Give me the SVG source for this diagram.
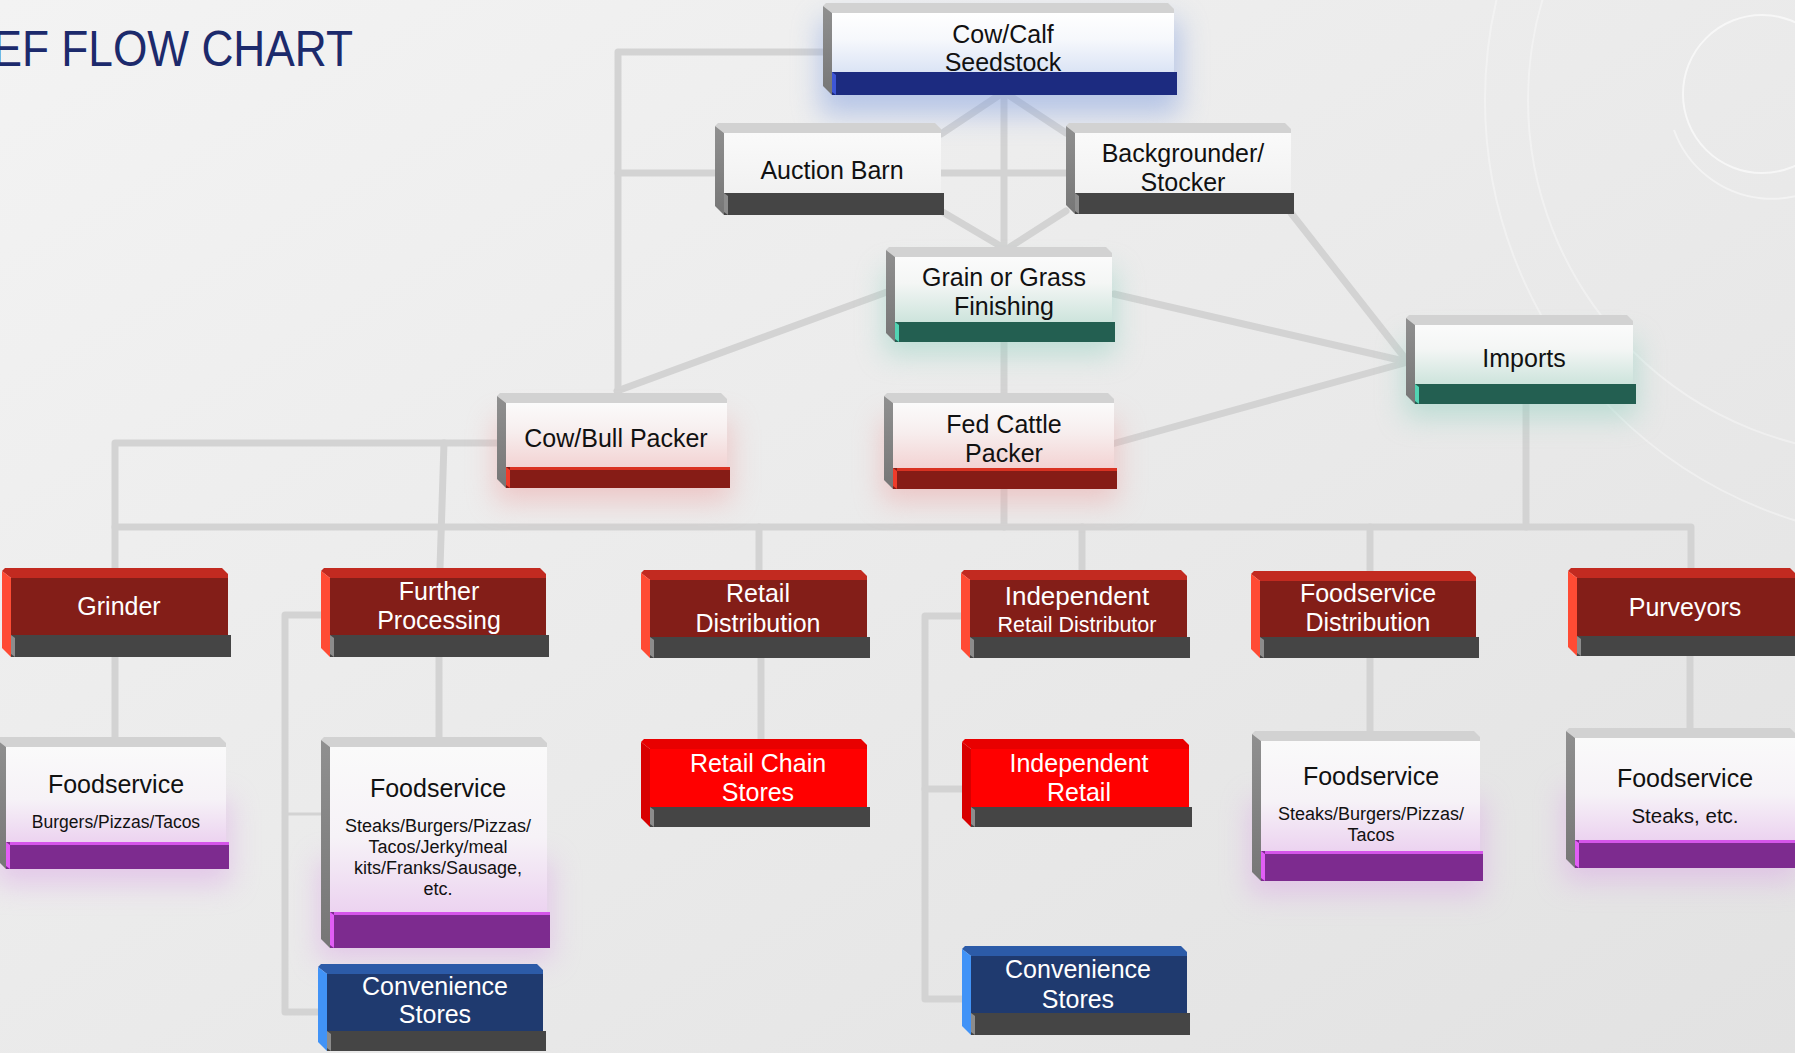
<svg xmlns="http://www.w3.org/2000/svg" width="1795" height="1053" viewBox="0 0 1795 1053">
<defs>
<linearGradient id="bg" x1="0" y1="0" x2="1" y2="1"><stop offset="0" stop-color="#f3f3f3"/><stop offset="1" stop-color="#e2e2e2"/></linearGradient>
<linearGradient id="fBlue" x1="0" y1="0" x2="0" y2="1"><stop offset="0" stop-color="#ffffff"/><stop offset="0.45" stop-color="#f6f8fc"/><stop offset="1" stop-color="#dbe4f5"/></linearGradient>
<linearGradient id="fTeal" x1="0" y1="0" x2="0" y2="1"><stop offset="0" stop-color="#fbfbfb"/><stop offset="0.4" stop-color="#f4f6f5"/><stop offset="1" stop-color="#cde4dc"/></linearGradient>
<linearGradient id="fPink" x1="0" y1="0" x2="0" y2="1"><stop offset="0" stop-color="#fbfbfb"/><stop offset="0.45" stop-color="#f7eeee"/><stop offset="1" stop-color="#f3d3d3"/></linearGradient>
<linearGradient id="fGray" x1="0" y1="0" x2="0" y2="1"><stop offset="0" stop-color="#fafafa"/><stop offset="1" stop-color="#f1f1f1"/></linearGradient>
<linearGradient id="fPurp" x1="0" y1="0" x2="0" y2="1"><stop offset="0" stop-color="#fafafa"/><stop offset="0.55" stop-color="#f6f2f7"/><stop offset="1" stop-color="#ecd3f0"/></linearGradient>
<linearGradient id="sideW" x1="0" y1="0" x2="0" y2="1"><stop offset="0" stop-color="#909090"/><stop offset="1" stop-color="#767676"/></linearGradient>
<filter id="blur" x="-50%" y="-50%" width="200%" height="200%"><feGaussianBlur stdDeviation="14"/></filter>
<style>
.tbw{fill:#d2d2d2}
.sdw{fill:url(#sideW)}
.glow{filter:url(#blur);opacity:0.5}
.bar-gray{fill:#454545}
.bv-gray{fill:#8c8c8c}
.bar-blue{fill:#1c2b80}
.bv-blue{fill:#3e56d6}
.bar-teal{fill:#235f51}
.bv-teal{fill:#52d3b3}
.bar-red{fill:#861c16}
.bv-red{fill:#ee3b2a}
.bar-purp{fill:#7d2b8f}
.bv-purp{fill:#e15ef5}
.f-red{fill:#831e18}
.tb-red{fill:#c22a20}
.sd-red{fill:#ff4b34}
.f-bred{fill:#ff0000}
.tb-bred{fill:#e80000}
.sd-bred{fill:#d80000}
.f-navy{fill:#1f3a6f}
.tb-navy{fill:#2c5ba8}
.sd-navy{fill:#4193f7}
.conn{fill:none;stroke:#d3d3d3;stroke-width:7;stroke-linecap:round;stroke-linejoin:round}
.thin{fill:none;stroke:#d3d3d3;stroke-width:3}
.deco{fill:none;stroke:#ffffff;stroke-width:2}
.t{font-family:"Liberation Sans",Arial,sans-serif;font-size:25px;text-anchor:middle}
.dk{fill:#111111}
.wt{fill:#ffffff}
.s18{font-size:18px}
.s175{font-size:17.5px}
.s21{font-size:21.5px}
.s26{font-size:26px}
.s20{font-size:20.5px}
</style>
</defs>
<rect x="0" y="0" width="1795" height="1053" fill="url(#bg)"/>
<g id="decor">
<circle class="deco" cx="1762" cy="94" r="79" stroke-width="3.5" opacity="0.6"/>
<path class="deco" d="M1674,130 A104,104 0 0 0 1860,150" opacity="0.45"/>
<circle class="deco" cx="1925" cy="100" r="440" opacity="0.35"/>
<circle class="deco" cx="1882" cy="100" r="354" opacity="0.35"/>
</g>
<g id="title"><text transform="translate(353,66) scale(0.885,1)" font-family="Liberation Sans,Arial,sans-serif" font-size="50" fill="#1c2a6c" text-anchor="end">EF FLOW CHART</text></g>

<g id="connectors">
<path class="conn" d="M823,52 H618 V391"/>
<path class="conn" d="M618,173 H715"/>
<path class="conn" d="M1004,92 L941,134"/>
<path class="conn" d="M1004,92 L1066,133"/>
<path class="conn" d="M1004,92 V247"/>
<path class="conn" d="M941,173 H1066"/>
<path class="conn" d="M941,211 L1002,247"/>
<path class="conn" d="M1066,211 L1010,247"/>
<path class="conn" d="M1291,213 L1408,362"/>
<path class="conn" d="M1114,294 L1408,362"/>
<path class="conn" d="M1112,444 L1408,362"/>
<path class="conn" d="M887,292 L617,391"/>
<path class="conn" d="M1004,342 V393"/>
<path class="conn" d="M499,443 H115 V568"/>
<path class="conn" d="M444,443 L440,568"/>
<path class="conn" d="M115,527 H1691 V568"/>
<path class="conn" d="M1004,489 V527"/>
<path class="conn" d="M1526,404 V527"/>
<path class="conn" d="M759,527 V570"/>
<path class="conn" d="M1082,527 V570"/>
<path class="conn" d="M1370,527 V571"/>
<path class="conn" d="M115,657 V737"/>
<path class="conn" d="M439,657 V737"/>
<path class="conn" d="M323,615 H285 V1012 H318"/>
<path class="thin" d="M287,814 H323"/>
<path class="conn" d="M761,658 V739"/>
<path class="conn" d="M963,616 H925 V999 H962"/>
<path class="conn" d="M925,789 H962"/>
<path class="conn" d="M1370,658 V731"/>
<path class="conn" d="M1690,656 V728"/>
</g>

<g id="n-cowcalf">
<rect class="glow" fill="#7f9de0" x="820" y="20" width="360" height="95"/>
<polygon class="tbw" points="823,6 826,3 1168,3 1174,9 1174,13 832,13"/>
<polygon class="sdw" points="823,6 832,13 832,95 823,86"/>
<rect fill="url(#fBlue)" x="832" y="13" width="342" height="59"/>
<rect class="bar-blue" x="832" y="72" width="345" height="23"/>
<polygon class="bv-blue" points="832,72 836,75 836,95 832,92"/>
<text class="t dk"><tspan x="1003" y="43">Cow/Calf</tspan><tspan x="1003" y="71">Seedstock</tspan></text>
</g>

<g id="n-auction">
<polygon class="tbw" points="715,126 718,123 935,123 941,129 941,133 724,133"/>
<polygon class="sdw" points="715,126 724,133 724,215 715,206"/>
<rect fill="url(#fGray)" x="724" y="133" width="217" height="60"/>
<rect class="bar-gray" x="724" y="193" width="220" height="22"/>
<polygon class="bv-gray" points="724,193 728,196 728,215 724,212"/>
<text class="t dk" x="832" y="179">Auction Barn</text>
</g>

<g id="n-backgrounder">
<polygon class="tbw" points="1066,126 1069,123 1285,123 1291,129 1291,133 1075,133"/>
<polygon class="sdw" points="1066,126 1075,133 1075,214 1066,205"/>
<rect fill="url(#fGray)" x="1075" y="133" width="216" height="60"/>
<rect class="bar-gray" x="1075" y="193" width="219" height="21"/>
<polygon class="bv-gray" points="1075,193 1079,196 1079,214 1075,211"/>
<text class="t dk"><tspan x="1183" y="162">Backgrounder/</tspan><tspan x="1183" y="191">Stocker</tspan></text>
</g>

<g id="n-grain">
<rect class="glow" fill="#8fd0bf" x="884" y="270" width="232" height="85"/>
<polygon class="tbw" points="886,250 889,247 1106,247 1112,253 1112,257 895,257"/>
<polygon class="sdw" points="886,250 895,257 895,342 886,333"/>
<rect fill="url(#fTeal)" x="895" y="257" width="217" height="65"/>
<rect class="bar-teal" x="895" y="322" width="220" height="20"/>
<polygon class="bv-teal" points="895,322 899,325 899,342 895,339"/>
<text class="t dk"><tspan x="1004" y="286">Grain or Grass</tspan><tspan x="1004" y="315">Finishing</tspan></text>
</g>

<g id="n-imports">
<rect class="glow" fill="#8fd0bf" x="1404" y="340" width="233" height="78"/>
<polygon class="tbw" points="1406,318 1409,315 1627,315 1633,321 1633,325 1415,325"/>
<polygon class="sdw" points="1406,318 1415,325 1415,404 1406,395"/>
<rect fill="url(#fTeal)" x="1415" y="325" width="218" height="59"/>
<rect class="bar-teal" x="1415" y="384" width="221" height="20"/>
<polygon class="bv-teal" points="1415,384 1419,387 1419,404 1415,401"/>
<text class="t dk" x="1524" y="367">Imports</text>
</g>

<g id="n-cowbull">
<rect class="glow" fill="#eea3a3" x="495" y="420" width="236" height="82"/>
<polygon class="tbw" points="497,396 500,393 721,393 727,399 727,403 506,403"/>
<polygon class="sdw" points="497,396 506,403 506,488 497,479"/>
<rect fill="url(#fPink)" x="506" y="403" width="221" height="64"/>
<rect class="bar-red" x="506" y="467" width="224" height="21"/>
<polygon class="bv-red" points="506,467 510,470 510,488 506,485"/>
<rect fill="#d93222" x="510" y="467" width="220" height="3"/>
<text class="t dk" x="616" y="447">Cow/Bull Packer</text>
</g>

<g id="n-fedcattle">
<rect class="glow" fill="#eea3a3" x="882" y="420" width="236" height="82"/>
<polygon class="tbw" points="884,396 887,393 1108,393 1114,399 1114,403 893,403"/>
<polygon class="sdw" points="884,396 893,403 893,489 884,480"/>
<rect fill="url(#fPink)" x="893" y="403" width="221" height="65"/>
<rect class="bar-red" x="893" y="468" width="224" height="21"/>
<polygon class="bv-red" points="893,468 897,471 897,489 893,486"/>
<rect fill="#d93222" x="897" y="468" width="220" height="3"/>
<text class="t dk"><tspan x="1004" y="433">Fed Cattle</tspan><tspan x="1004" y="462">Packer</tspan></text>
</g>

<g id="n-grinder">
<polygon class="tb-red" points="2,571 5,568 222,568 228,574 228,578 11,578"/>
<polygon class="sd-red" points="2,571 11,578 11,657 2,648"/>
<rect class="f-red" x="11" y="578" width="217" height="57"/>
<rect class="bar-gray" x="11" y="635" width="220" height="22"/>
<polygon class="bv-gray" points="11,635 15,638 15,657 11,654"/>
<text class="t wt" x="119" y="615">Grinder</text>
</g>

<g id="n-further">
<polygon class="tb-red" points="321,571 324,568 540,568 546,574 546,578 330,578"/>
<polygon class="sd-red" points="321,571 330,578 330,657 321,648"/>
<rect class="f-red" x="330" y="578" width="216" height="57"/>
<rect class="bar-gray" x="330" y="635" width="219" height="22"/>
<polygon class="bv-gray" points="330,635 334,638 334,657 330,654"/>
<text class="t wt"><tspan x="439" y="600">Further</tspan><tspan x="439" y="629">Processing</tspan></text>
</g>

<g id="n-retaildist">
<polygon class="tb-red" points="641,573 644,570 861,570 867,576 867,580 650,580"/>
<polygon class="sd-red" points="641,573 650,580 650,658 641,649"/>
<rect class="f-red" x="650" y="580" width="217" height="57"/>
<rect class="bar-gray" x="650" y="637" width="220" height="21"/>
<polygon class="bv-gray" points="650,637 654,640 654,658 650,655"/>
<text class="t wt"><tspan x="758" y="602">Retail</tspan><tspan x="758" y="632">Distribution</tspan></text>
</g>

<g id="n-indepdist">
<polygon class="tb-red" points="961,573 964,570 1181,570 1187,576 1187,580 970,580"/>
<polygon class="sd-red" points="961,573 970,580 970,658 961,649"/>
<rect class="f-red" x="970" y="580" width="217" height="57"/>
<rect class="bar-gray" x="970" y="637" width="220" height="21"/>
<polygon class="bv-gray" points="970,637 974,640 974,658 970,655"/>
<text class="t wt s26" x="1077" y="605">Independent</text>
<text class="t wt s21" x="1077" y="632">Retail Distributor</text>
</g>

<g id="n-fsdist">
<polygon class="tb-red" points="1251,574 1254,571 1470,571 1476,577 1476,581 1260,581"/>
<polygon class="sd-red" points="1251,574 1260,581 1260,658 1251,649"/>
<rect class="f-red" x="1260" y="581" width="216" height="56"/>
<rect class="bar-gray" x="1260" y="637" width="219" height="21"/>
<polygon class="bv-gray" points="1260,637 1264,640 1264,658 1260,655"/>
<text class="t wt"><tspan x="1368" y="602">Foodservice</tspan><tspan x="1368" y="631">Distribution</tspan></text>
</g>

<g id="n-purveyors">
<polygon class="tb-red" points="1568,571 1571,568 1790,568 1796,574 1796,578 1577,578"/>
<polygon class="sd-red" points="1568,571 1577,578 1577,656 1568,647"/>
<rect class="f-red" x="1577" y="578" width="219" height="58"/>
<rect class="bar-gray" x="1577" y="636" width="222" height="20"/>
<polygon class="bv-gray" points="1577,636 1581,639 1581,656 1577,653"/>
<text class="t wt" x="1685" y="616">Purveyors</text>
</g>

<g id="n-fs-grinder">
<rect class="glow" fill="#dca6e6" x="-5" y="800" width="236" height="85"/>
<polygon class="tbw" points="-3,740 0,737 220,737 226,743 226,747 6,747"/>
<polygon class="sdw" points="-3,740 6,747 6,869 -3,860"/>
<rect fill="url(#fPurp)" x="6" y="747" width="220" height="95"/>
<rect class="bar-purp" x="6" y="842" width="223" height="27"/>
<polygon class="bv-purp" points="6,842 10,845 10,869 6,866"/>
<rect fill="#d555ea" x="10" y="842" width="219" height="3"/>
<text class="t dk" x="116" y="793">Foodservice</text>
<text class="t dk s175" x="116" y="828">Burgers/Pizzas/Tacos</text>
</g>

<g id="n-fs-further">
<rect class="glow" fill="#dca6e6" x="318" y="860" width="234" height="100"/>
<polygon class="tbw" points="321,740 324,737 541,737 547,743 547,747 330,747"/>
<polygon class="sdw" points="321,740 330,747 330,948 321,939"/>
<rect fill="url(#fPurp)" x="330" y="747" width="217" height="165"/>
<rect class="bar-purp" x="330" y="912" width="220" height="36"/>
<polygon class="bv-purp" points="330,912 334,915 334,948 330,945"/>
<rect fill="#d555ea" x="334" y="912" width="216" height="3"/>
<text class="t dk" x="438" y="797">Foodservice</text>
<text class="t dk s18"><tspan x="438" y="832">Steaks/Burgers/Pizzas/</tspan><tspan x="438" y="853">Tacos/Jerky/meal</tspan><tspan x="438" y="874">kits/Franks/Sausage,</tspan><tspan x="438" y="895">etc.</tspan></text>
</g>

<g id="n-conv1">
<polygon class="tb-navy" points="318,967 321,964 537,964 543,970 543,974 327,974"/>
<polygon class="sd-navy" points="318,967 327,974 327,1051 318,1042"/>
<rect class="f-navy" x="327" y="974" width="216" height="57"/>
<rect class="bar-gray" x="327" y="1031" width="219" height="20"/>
<polygon class="bv-gray" points="327,1031 331,1034 331,1051 327,1048"/>
<text class="t wt"><tspan x="435" y="995">Convenience</tspan><tspan x="435" y="1023">Stores</tspan></text>
</g>

<g id="n-retailchain">
<polygon class="tb-bred" points="641,742 644,739 861,739 867,745 867,749 650,749"/>
<polygon class="sd-bred" points="641,742 650,749 650,827 641,818"/>
<rect class="f-bred" x="650" y="749" width="217" height="58"/>
<rect class="bar-gray" x="650" y="807" width="220" height="20"/>
<polygon class="bv-gray" points="650,807 654,810 654,827 650,824"/>
<text class="t wt"><tspan x="758" y="772">Retail Chain</tspan><tspan x="758" y="801">Stores</tspan></text>
</g>

<g id="n-indepretail">
<polygon class="tb-bred" points="962,742 965,739 1183,739 1189,745 1189,749 971,749"/>
<polygon class="sd-bred" points="962,742 971,749 971,827 962,818"/>
<rect class="f-bred" x="971" y="749" width="218" height="58"/>
<rect class="bar-gray" x="971" y="807" width="221" height="20"/>
<polygon class="bv-gray" points="971,807 975,810 975,827 971,824"/>
<text class="t wt"><tspan x="1079" y="772">Independent</tspan><tspan x="1079" y="801">Retail</tspan></text>
</g>

<g id="n-conv2">
<polygon class="tb-navy" points="962,949 965,946 1181,946 1187,952 1187,956 971,956"/>
<polygon class="sd-navy" points="962,949 971,956 971,1035 962,1026"/>
<rect class="f-navy" x="971" y="956" width="216" height="57"/>
<rect class="bar-gray" x="971" y="1013" width="219" height="22"/>
<polygon class="bv-gray" points="971,1013 975,1016 975,1035 971,1032"/>
<text class="t wt"><tspan x="1078" y="978">Convenience</tspan><tspan x="1078" y="1008">Stores</tspan></text>
</g>

<g id="n-fs-fsdist">
<rect class="glow" fill="#dca6e6" x="1249" y="800" width="236" height="95"/>
<polygon class="tbw" points="1252,734 1255,731 1474,731 1480,737 1480,741 1261,741"/>
<polygon class="sdw" points="1252,734 1261,741 1261,881 1252,872"/>
<rect fill="url(#fPurp)" x="1261" y="741" width="219" height="110"/>
<rect class="bar-purp" x="1261" y="851" width="222" height="30"/>
<polygon class="bv-purp" points="1261,851 1265,854 1265,881 1261,878"/>
<rect fill="#d555ea" x="1265" y="851" width="218" height="3"/>
<text class="t dk" x="1371" y="785">Foodservice</text>
<text class="t dk s18"><tspan x="1371" y="820">Steaks/Burgers/Pizzas/</tspan><tspan x="1371" y="841">Tacos</tspan></text>
</g>

<g id="n-fs-purveyors">
<rect class="glow" fill="#dca6e6" x="1563" y="790" width="236" height="92"/>
<polygon class="tbw" points="1566,731 1569,728 1790,728 1796,734 1796,738 1575,738"/>
<polygon class="sdw" points="1566,731 1575,738 1575,868 1566,859"/>
<rect fill="url(#fPurp)" x="1575" y="738" width="221" height="102"/>
<rect class="bar-purp" x="1575" y="840" width="224" height="28"/>
<polygon class="bv-purp" points="1575,840 1579,843 1579,868 1575,865"/>
<rect fill="#d555ea" x="1579" y="840" width="220" height="3"/>
<text class="t dk" x="1685" y="787">Foodservice</text>
<text class="t dk s20" x="1685" y="823">Steaks, etc.</text>
</g>
</svg>
